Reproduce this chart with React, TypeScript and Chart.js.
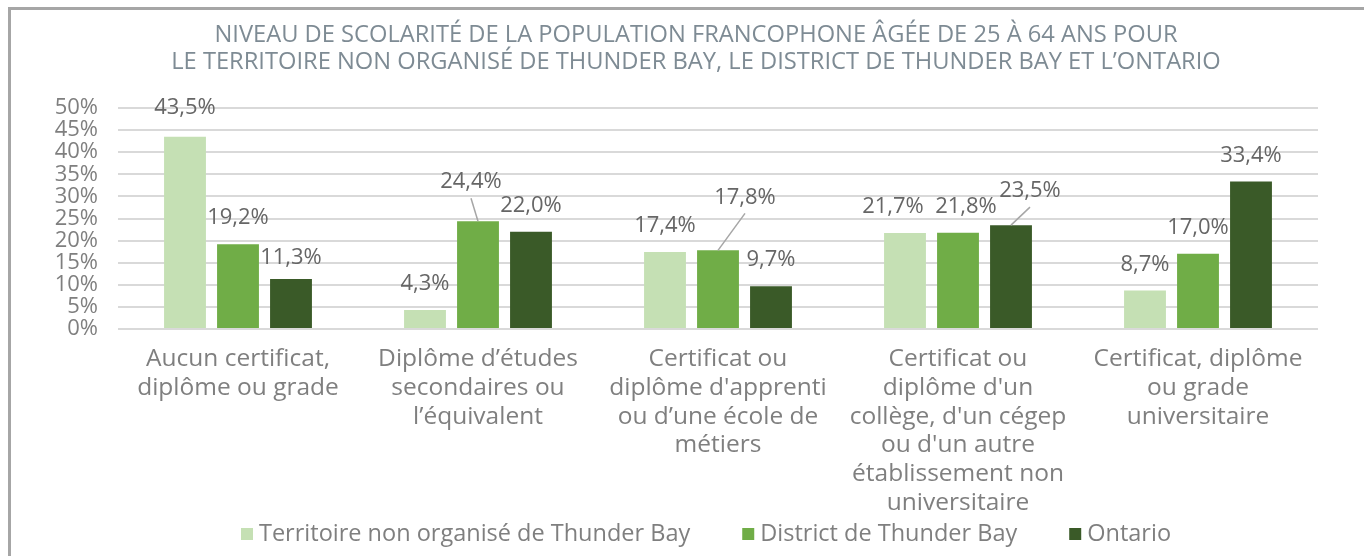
import React, { useEffect, useRef } from "react";
import { Chart, registerables } from "chart.js";

Chart.register(...registerables);

const TITLE_LINES = [
  "NIVEAU DE SCOLARITÉ DE LA POPULATION FRANCOPHONE ÂGÉE DE 25 À 64 ANS POUR",
  "LE TERRITOIRE NON ORGANISÉ DE THUNDER BAY, LE DISTRICT DE THUNDER BAY ET L’ONTARIO",
];

const CATEGORIES: string[][] = [
  ["Aucun certificat,", "diplôme ou grade"],
  ["Diplôme d’études", "secondaires ou", "l’équivalent"],
  ["Certificat ou", "diplôme d'apprenti", "ou d’une école de", "métiers"],
  ["Certificat ou", "diplôme d'un", "collège, d'un cégep", "ou d'un autre", "établissement non", "universitaire"],
  ["Certificat, diplôme", "ou grade", "universitaire"],
];

const SERIES_NAMES = [
  "Territoire non organisé de Thunder Bay",
  "District de Thunder Bay",
  "Ontario",
];

const TERRITOIRE = [43.5, 4.3, 17.4, 21.7, 8.7];
const DISTRICT = [19.2, 24.4, 17.8, 21.8, 17.0];
const ONTARIO = [11.3, 22.0, 9.7, 23.5, 33.4];

const Y_MIN = 0;
const Y_MAX = 50;
const Y_STEP = 5;

const COLORS = ["#C5E0B4", "#70AD47", "#3A5A28"];

const FONT = "'Open Sans', sans-serif";
const TITLE_COLOR = "#7E8B94";
const TICK_COLOR = "#7F7F7F";
const LABEL_COLOR = "#666666";
const LEADER_COLOR = "#A6A6A6";

// manual nudges for data labels (dataset-index)
const LABEL_NUDGES: Record<string, { dx: number; dy: number; leader?: boolean }> = {
  "0-0": { dx: 0, dy: -3 },
  "2-0": { dx: 0, dy: 5 },
  "1-1": { dx: -7, dy: -13, leader: true },
  "1-2": { dx: 27, dy: -27, leader: true },
  "0-3": { dx: -12, dy: 0 },
  "1-3": { dx: 8, dy: 0 },
  "2-3": { dx: 19, dy: -8, leader: true },
};

const fmt = (v: number) => v.toFixed(1).replace(".", ",") + "%";

const customPlugin = {
  id: "customDecor",
  afterDatasetsDraw(chart: any) {
    const ctx = chart.ctx as CanvasRenderingContext2D;
    ctx.save();
    ctx.font = `22px ${FONT}`;
    ctx.textAlign = "center";
    ctx.textBaseline = "middle";
    chart.data.datasets.forEach((ds: any, i: number) => {
      const meta = chart.getDatasetMeta(i);
      meta.data.forEach((bar: any, j: number) => {
        const n = LABEL_NUDGES[`${i}-${j}`] || { dx: 0, dy: 0 };
        const cx = bar.x + n.dx;
        const cy = bar.y - 26 + n.dy;
        if (n.leader) {
          ctx.strokeStyle = LEADER_COLOR;
          ctx.lineWidth = 1.5;
          ctx.beginPath();
          ctx.moveTo(bar.x, bar.y);
          ctx.lineTo(cx, cy + 16);
          ctx.stroke();
        }
        ctx.fillStyle = LABEL_COLOR;
        ctx.fillText(fmt(ds.data[j]), cx, cy);
      });
    });
    ctx.restore();
  },
  afterDraw(chart: any) {
    const ctx = chart.ctx as CanvasRenderingContext2D;
    ctx.save();
    // title
    ctx.fillStyle = TITLE_COLOR;
    ctx.font = `23.7px ${FONT}`;
    ctx.textAlign = "center";
    ctx.textBaseline = "middle";
    TITLE_LINES.forEach((l, i) => ctx.fillText(l, 696, 35 + i * 27));

    // legend
    ctx.font = `23.5px ${FONT}`;
    const box = 12;
    const gap = 6;
    const spacing = 52;
    const widths = SERIES_NAMES.map((s) => ctx.measureText(s).width);
    const total =
      widths.reduce((a, w) => a + box + gap + w, 0) + spacing * (SERIES_NAMES.length - 1);
    let x = 706 - total / 2;
    const y = 534;
    ctx.textAlign = "left";
    SERIES_NAMES.forEach((s, i) => {
      ctx.fillStyle = COLORS[i];
      ctx.fillRect(x, y - box / 2, box, box);
      ctx.fillStyle = TICK_COLOR;
      ctx.fillText(s, x + box + gap, y);
      x += box + gap + widths[i] + spacing;
    });
    ctx.restore();
  },
};

export default function App() {
  const ref = useRef<HTMLCanvasElement | null>(null);

  useEffect(() => {
    if (!ref.current) return;
    const chart = new Chart(ref.current, {
      type: "bar",
      data: {
        labels: CATEGORIES,
        datasets: [TERRITOIRE, DISTRICT, ONTARIO].map((d, i) => ({
          label: SERIES_NAMES[i],
          data: d,
          backgroundColor: COLORS[i],
          borderWidth: 0,
          categoryPercentage: 0.6625,
          barPercentage: 0.79,
        })),
      },
      options: {
        animation: false,
        responsive: false,
        maintainAspectRatio: false,
        layout: { padding: { top: 108, left: 0, right: 46, bottom: 31 } },
        plugins: {
          legend: { display: false },
          title: { display: false },
          tooltip: { enabled: false },
        },
        scales: {
          x: {
            grid: { display: false },
            border: { display: false },
            ticks: {
              color: TICK_COLOR,
              font: { family: FONT, size: 24.5, lineHeight: 1.17 },
              padding: 8,
              maxRotation: 0,
              autoSkip: false,
            },
          },
          y: {
            min: Y_MIN,
            max: Y_MAX,
            border: { display: false },
            grid: { color: "#D9D9D9", lineWidth: 2, drawTicks: false },
            afterFit(scale: any) {
              scale.width = 118;
            },
            ticks: {
              stepSize: Y_STEP,
              autoSkip: false,
              color: TICK_COLOR,
              font: { family: FONT, size: 22, lineHeight: 1 },
              padding: 20,
              callback: (v: any) => `${v}%`,
            },
          },
        },
      },
      plugins: [customPlugin],
    });
    return () => chart.destroy();
  }, []);

  return (
    <div
      style={{
        position: "fixed",
        left: 0,
        top: 0,
        width: 1364,
        height: 556,
        overflow: "hidden",
        background: "#ffffff",
      }}
    >
      <div
        style={{
          position: "absolute",
          left: 8,
          top: 7,
          width: 1400,
          height: 600,
          borderTop: "3px solid #A6A6A6",
          borderLeft: "3px solid #A6A6A6",
        }}
      />
      <canvas
        ref={ref}
        width={1364}
        height={556}
        style={{ position: "absolute", left: 0, top: 0, width: 1364, height: 556 }}
      />
    </div>
  );
}
